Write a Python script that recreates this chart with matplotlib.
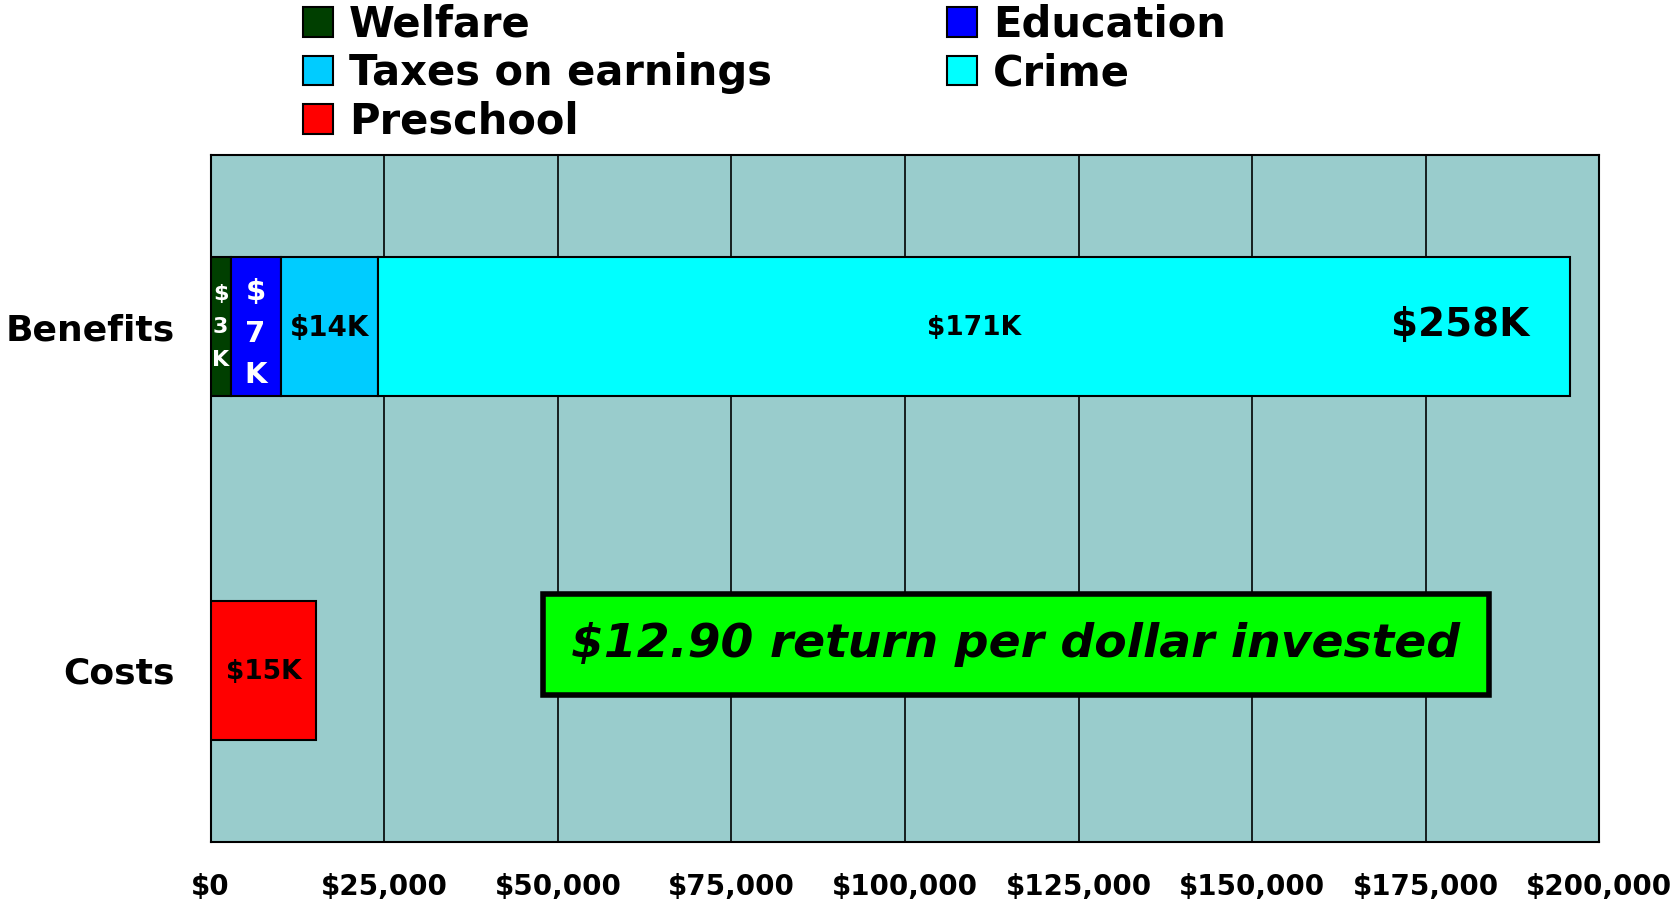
import matplotlib
matplotlib.use("Agg")
import matplotlib.pyplot as plt
from matplotlib.patches import Patch

# ---- data ----
categories = ["Costs", "Benefits"]
benefit_names = ["Welfare", "Education", "Taxes on earnings", "Crime"]
benefit_values = [2880, 7200, 14060, 171700]
benefit_labels = ["$\n3\nK", "$\n7\nK", "$14K", "$171K"]
cost_names = ["Preschool"]
cost_values = [15200]
cost_labels = ["$15K"]
total_label = "$258K"
total_label_x = 180000
roi_text = "$12.90 return per dollar invested"
roi_x = 116000
xticks = [0, 25000, 50000, 75000, 100000, 125000, 150000, 175000, 200000]
xtick_labels = ["$0", "$25,000", "$50,000", "$75,000", "$100,000", "$125,000",
                "$150,000", "$175,000", "$200,000"]

benefit_colors = ["#003F00", "#0000FF", "#00CCFF", "#00FFFF"]
cost_colors = ["#FF0000"]
label_colors = ["white", "white", "black", "black"]
label_sizes = [16, 21, 20, 19]
label_spacing = [1.8, 1.6, 1.2, 1.2]
label_dy = [0.0, -0.02, -0.005, -0.005]

plt.rcParams['font.family'] = ['DejaVu Sans']
fig = plt.figure(figsize=(16.76, 9.08), dpi=100)
ax = fig.add_axes([0.1257, 0.0727, 0.8285, 0.7566])
ax.set_facecolor("#99CCCC")

bar_h = 0.404
left = 0
handles = {}
for name, val, col, lab, lc, ls, sp, dy in zip(benefit_names, benefit_values, benefit_colors,
                                              benefit_labels, label_colors, label_sizes,
                                              label_spacing, label_dy):
    ax.barh(1, val, left=left, height=bar_h, color=col, edgecolor="black",
            linewidth=1.5, zorder=3)
    ax.text(left + val / 2, 1 + dy, lab, ha="center", va="center", color=lc,
            fontsize=ls, fontweight="bold", linespacing=sp, zorder=4)
    handles[name] = Patch(facecolor=col, edgecolor="black", linewidth=1.5)
    left += val

cleft = 0
for name, val, col, lab in zip(cost_names, cost_values, cost_colors, cost_labels):
    ax.barh(0, val, left=cleft, height=bar_h, color=col, edgecolor="black",
            linewidth=1.5, zorder=3)
    ax.text(cleft + val / 2, -0.005, lab, ha="center", va="center", color="black",
            fontsize=19, fontweight="bold", zorder=4)
    handles[name] = Patch(facecolor=col, edgecolor="black", linewidth=1.5)
    cleft += val

ax.text(total_label_x, 1.005, total_label, ha="center", va="center", fontsize=28,
        fontweight="bold", color="black", zorder=4)

ax.text(roi_x, 0.075, roi_text, ha="center", va="center", fontsize=34,
        fontweight="bold", style="italic", color="black", zorder=5,
        bbox=dict(boxstyle="square,pad=0.6", facecolor="#00FF00",
                  edgecolor="black", linewidth=4))

ax.set_xlim(0, 200000)
ax.set_ylim(-0.5, 1.5)
ax.set_xticks(xticks)
ax.set_xticklabels(xtick_labels, fontsize=20, fontweight="bold")
ax.set_yticks([0, 1])
ax.set_yticklabels(categories, fontsize=26, fontweight="bold")
ax.tick_params(axis="both", length=0)
ax.tick_params(axis="x", pad=22)
ax.tick_params(axis="y", pad=26)
ax.xaxis.grid(True, color="black", linewidth=1.2, zorder=1)
ax.set_axisbelow(True)
for s in ax.spines.values():
    s.set_color("black")
    s.set_linewidth(1.5)

order = ["Welfare", "Taxes on earnings", "Preschool", "Education", "Crime"]
fig.legend([handles[n] for n in order], order, loc="upper left",
           bbox_to_anchor=(0.176, 1.005), ncol=2, frameon=False,
           prop=dict(size=30, weight="bold"), handlelength=0.72,
           handleheight=0.72, handletextpad=0.38, columnspacing=4.2,
           labelspacing=0.15, borderpad=0.2, borderaxespad=0)

fig.savefig("out.png", dpi=100)
